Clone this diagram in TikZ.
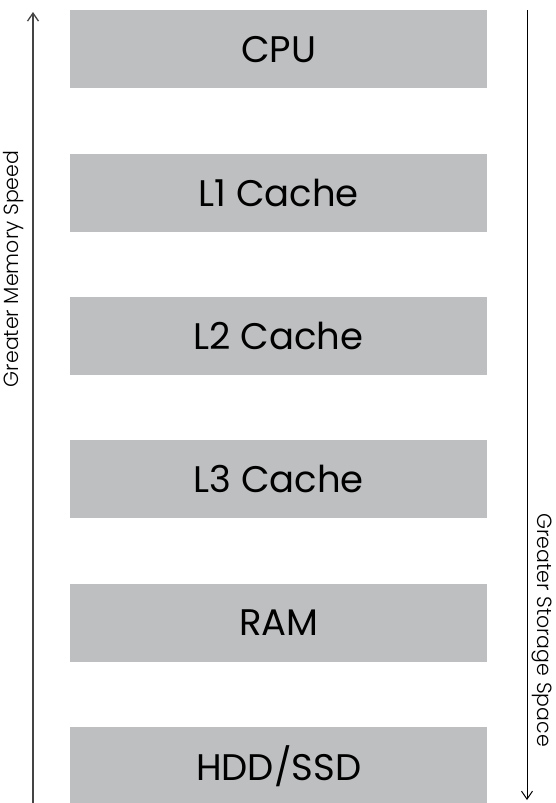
\documentclass[tikz,border=0pt]{standalone}
\usepackage{fontspec}
\setmainfont{Poppins}
\newfontfamily\thinfont{Poppins Light}
\usepackage{tikz}
\usetikzlibrary{positioning,arrows.meta}
\definecolor{levelgray}{HTML}{BEBFC1}
\definecolor{axisgray}{HTML}{444444}
\tikzset{
  level/.style = {fill=levelgray, minimum width=417pt, minimum height=78pt, inner sep=0pt, font=\fontsize{37}{37}\selectfont},
  axislabel/.style = {font=\thinfont\fontsize{20.5}{20.5}\selectfont, inner sep=0pt},
  axis/.style = {line width=1.3pt, -{Straight Barb[length=8pt,width=11pt]}},
}

\begin{document}
\begin{tikzpicture}[x=1pt,y=1pt]
\useasboundingbox (0,0) rectangle (556,-803);
% memory levels, fastest on top
\node [level, anchor=north west] (cpu) at (70,-10) {CPU};
\node [level, below=65pt of cpu] (lone) {L1 Cache};
\node [level, below=65pt of lone] (ltwo) {L2 Cache};
\node [level, below=65pt of ltwo] (lthree) {L3 Cache};
\node [level, below=65pt of lthree] (ram) {RAM};
\node [level, below=65pt of ram] (disk) {HDD/SSD};
% axes
\coordinate (speedlow) at (33,-803);
\coordinate (speedhigh) at (33,-12);
\coordinate (spacelow) at (527,-10);
\coordinate (spacehigh) at (527,-800);
\draw [axis, axisgray] (speedlow) -- (speedhigh);
\draw [axis, black, line width=1pt] (spacelow) -- (spacehigh);
\node [axislabel, rotate=90] (speed) at (14,-269) {Greater Memory Speed};
\node [axislabel, rotate=-90] (space) at (542,-630) {Greater Storage Space};
\end{tikzpicture}
\end{document}
